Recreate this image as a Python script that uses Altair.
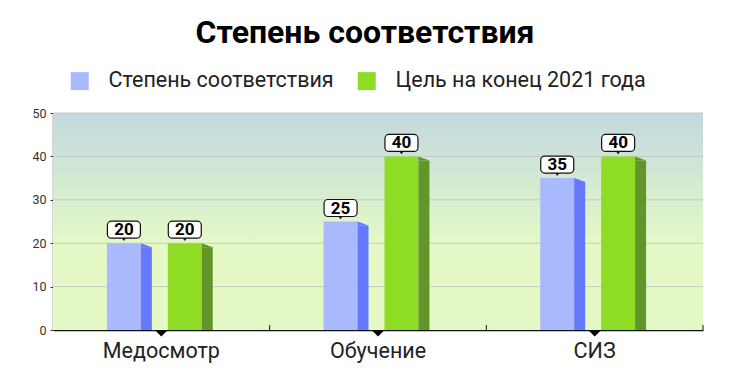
import altair as alt
import pandas as pd

categories = ["Медосмотр", "Обучение", "СИЗ"]
series = ["Степень соответствия", "Цель на конец 2021 года"]
compliance = [20, 25, 35]
target = [20, 40, 40]
front_colors = ["#a9b9fe", "#8edd24"]
side_colors = ["#6479fd", "#62952a"]
grid_values = [10, 20, 30, 40, 50]

rows = []
for i, c in enumerate(categories):
    for s, vals, sc in [(series[0], compliance, side_colors[0]), (series[1], target, side_colors[1])]:
        rows.append({"cat": c, "series": s, "value": vals[i], "side": sc, "label": str(vals[i])})
df = pd.DataFrame(rows)
cat_df = pd.DataFrame({"cat": categories})
grid_df = pd.DataFrame({"g": grid_values})

W, H = 650, 217
FONT = "Roboto"

xscale = alt.Scale(type="band", domain=categories, paddingInner=0, paddingOuter=0)
yscale = alt.Scale(domain=[0, 50], nice=False)
front_off = alt.XOffset("series:N", sort=series,
                        scale=alt.Scale(type="band", domain=series, paddingInner=0.4426,
                                        paddingOuter=1.0, align=0.4426))
side_off = alt.XOffset("series:N", sort=series,
                       scale=alt.Scale(type="band", domain=series, paddingInner=0.4426,
                                       paddingOuter=1.0, align=0.627))

x_axis = alt.Axis(title=None, labelAngle=0, labelFontSize=21.5, labelColor="#222", labelFont=FONT,
                  ticks=False, labelPadding=10, domainColor="#111", domainWidth=1.5)
y_axis = alt.Axis(title=None, grid=False, values=[0, 10, 20, 30, 40, 50], labelFontSize=12.5,
                  labelColor="#333", labelFont=FONT, tickSize=3, tickColor="#333",
                  labelPadding=4, domainColor="#555", domainWidth=1.5)
X = alt.X("cat:N", sort=categories, scale=xscale, axis=x_axis)
Y = alt.Y("value:Q", scale=yscale, axis=y_axis)

bg = alt.Chart(alt.Data(values=[{"a": 1}])).mark_rect(
    fill=alt.Gradient(gradient="linear", x1=0, y1=0, x2=0, y2=1,
                      stops=[alt.GradientStop(offset=0, color="#c4d8e0"),
                             alt.GradientStop(offset=0.3, color="#d3e9d2"),
                             alt.GradientStop(offset=0.6, color="#e4f9c6"),
                             alt.GradientStop(offset=1, color="#e4f9c6")])
).encode(x=alt.value(0), x2=alt.value(W), y=alt.value(0), y2=alt.value(H))

grid = alt.Chart(grid_df).mark_rule(color="#c8c8c8", strokeWidth=1).encode(
    y=alt.Y("g:Q", scale=yscale, axis=y_axis))

base = alt.Chart(df)

front = base.mark_bar().encode(
    x=X, xOffset=front_off, y=Y,
    color=alt.Color("series:N", sort=series, scale=alt.Scale(domain=series, range=front_colors),
                    legend=alt.Legend(title=None, orient="none", legendX=16, legendY=-43,
                                      direction="horizontal", symbolType="square", symbolSize=324,
                                      symbolStrokeWidth=0, labelFontSize=21.5, labelFont=FONT,
                                      labelColor="#222", labelOffset=18, columnPadding=22,
                                      labelLimit=400)))

side = base.mark_bar(width=11, yOffset=4, y2Offset=0).encode(
    x=X, xOffset=side_off, y=Y, y2=alt.Y2(datum=0), color=alt.Color("side:N", scale=None))

side_top = base.mark_point(shape="M-1,0 L1,0.73 L-1,0.73 Z", size=121, filled=True, opacity=1,
                           strokeWidth=0).encode(
    x=X, xOffset=side_off, y=Y, color=alt.Color("side:N", scale=None))

box = base.mark_bar(width=33, cornerRadius=4, fill="white", stroke="#111", strokeWidth=1.2,
                    yOffset=-22, y2Offset=-5).encode(
    x=X, xOffset=front_off, y=Y, y2=alt.Y2("value:Q"))

pointer = base.mark_point(shape="M-1,0 L1,0 L0,1.4 Z", size=16, filled=True, opacity=1,
                          color="#111", strokeWidth=0, yOffset=-5).encode(
    x=X, xOffset=front_off, y=Y)

text = base.mark_text(fontSize=17, fontWeight="bold", font=FONT, color="#000",
                      yOffset=-13, baseline="middle").encode(
    x=X, xOffset=front_off, y=Y, text="label:N")

up_ticks = alt.Chart(cat_df).mark_rule(color="#111", strokeWidth=1).encode(
    x=alt.X("cat:N", sort=categories, scale=xscale, bandPosition=1),
    y=alt.value(H - 5), y2=alt.value(H))

tri = alt.Chart(cat_df).mark_point(shape="M-1,0 L1,0 L0,1 Z", size=144, filled=True, opacity=1,
                                   color="#000", strokeWidth=0).encode(
    x=alt.X("cat:N", sort=categories, scale=xscale), y=alt.value(H + 0.5))

chart = alt.layer(bg, grid, front, side, side_top, box, pointer, text, up_ticks, tri).resolve_scale(
    color="independent", xOffset="independent").properties(
    width=W, height=H,
    autosize=alt.AutoSizeParams(type="none"),
    padding={"left": 45, "top": 105, "right": 19, "bottom": 38},
    title=alt.TitleParams("Степень соответствия", font=FONT, fontSize=32, fontWeight="bold",
                          color="#000", anchor="middle", frame="group", dx=-13, offset=20),
).configure_view(strokeWidth=0)

chart.save("out.html", embed_options={"renderer": "svg", "actions": False})
